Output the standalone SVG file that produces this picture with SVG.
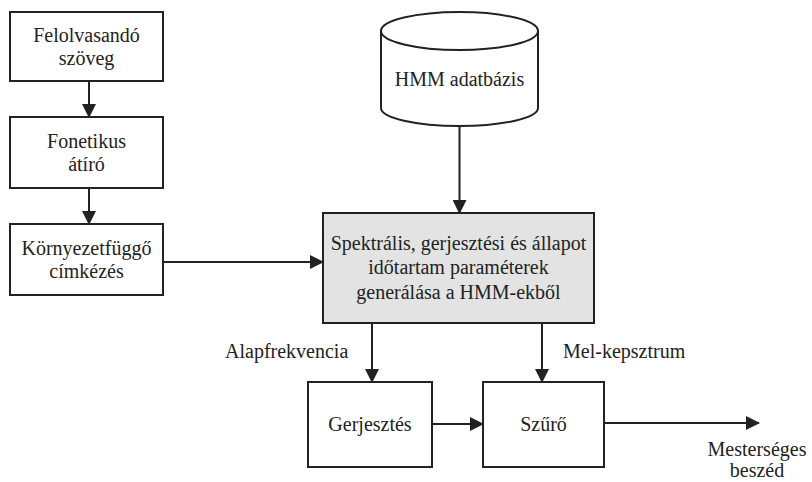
<svg xmlns="http://www.w3.org/2000/svg" width="812" height="482" viewBox="0 0 812 482">
<style>
.box{fill:#fff;stroke:#222;stroke-width:2}
.gray{fill:#e3e3e3;stroke:#222;stroke-width:2}
.t{font-family:"Liberation Serif","Times New Roman",serif;font-size:20px;fill:#222;text-anchor:middle}
.lbl{font-family:"Liberation Serif","Times New Roman",serif;font-size:20px;fill:#222}
.c{stroke:#222;stroke-width:2;fill:none;marker-end:url(#ah)}
</style>
<defs>
<marker id="ah" markerUnits="userSpaceOnUse" markerWidth="14" markerHeight="14" refX="13" refY="7" orient="auto">
<path d="M0,0 L14,7 L0,14 z" fill="#222"/>
</marker>
</defs>
<rect width="812" height="482" fill="#fff"/>
<g id="felolvasando">
<rect class="box" x="10" y="12" width="153" height="69"/>
<text class="t" x="86.5" y="42">Felolvasandó</text>
<text class="t" x="86.5" y="65">szöveg</text>
</g>
<g id="fonetikus">
<rect class="box" x="10" y="117" width="153" height="71"/>
<text class="t" x="86.5" y="148">Fonetikus</text>
<text class="t" x="86.5" y="171">átíró</text>
</g>
<g id="kornyezet">
<rect class="box" x="10" y="224" width="153" height="71"/>
<text class="t" x="86.5" y="255">Környezetfüggő</text>
<text class="t" x="86.5" y="278">címkézés</text>
</g>
<g id="hmm-db">
<path class="box" d="M381,31 L381,108 A78.5,18 0 0 0 538,108 L538,31"/>
<ellipse class="box" cx="459.5" cy="31" rx="78.5" ry="19"/>
<text class="t" x="459.5" y="86">HMM adatbázis</text>
</g>
<g id="generalas">
<rect class="gray" x="323" y="213" width="271" height="110"/>
<text class="t" x="458.5" y="250">Spektrális, gerjesztési és állapot</text>
<text class="t" x="458.5" y="274">időtartam paraméterek</text>
<text class="t" x="458.5" y="299">generálása a HMM-ekből</text>
</g>
<g id="gerjesztes">
<rect class="box" x="308" y="382" width="124" height="85"/>
<text class="t" x="370" y="431">Gerjesztés</text>
</g>
<g id="szuro">
<rect class="box" x="483" y="382" width="121" height="85"/>
<text class="t" x="543.5" y="431">Szűrő</text>
</g>
<g id="connectors">
<line class="c" x1="89" y1="81" x2="89" y2="117"/>
<line class="c" x1="89" y1="188" x2="89" y2="224"/>
<line class="c" x1="163" y1="262" x2="323" y2="262"/>
<line class="c" x1="459.5" y1="126" x2="459.5" y2="213"/>
<line class="c" x1="372" y1="323" x2="372" y2="382"/>
<line class="c" x1="542" y1="323" x2="542" y2="382"/>
<line class="c" x1="432" y1="424" x2="483" y2="424"/>
<line class="c" x1="604" y1="423" x2="759" y2="423"/>
<text class="lbl" x="225" y="358">Alapfrekvencia</text>
<text class="lbl" x="563" y="358">Mel-kepsztrum</text>
<text class="t" x="757" y="456">Mesterséges</text>
<text class="t" x="757" y="477">beszéd</text>
</g>
</svg>
